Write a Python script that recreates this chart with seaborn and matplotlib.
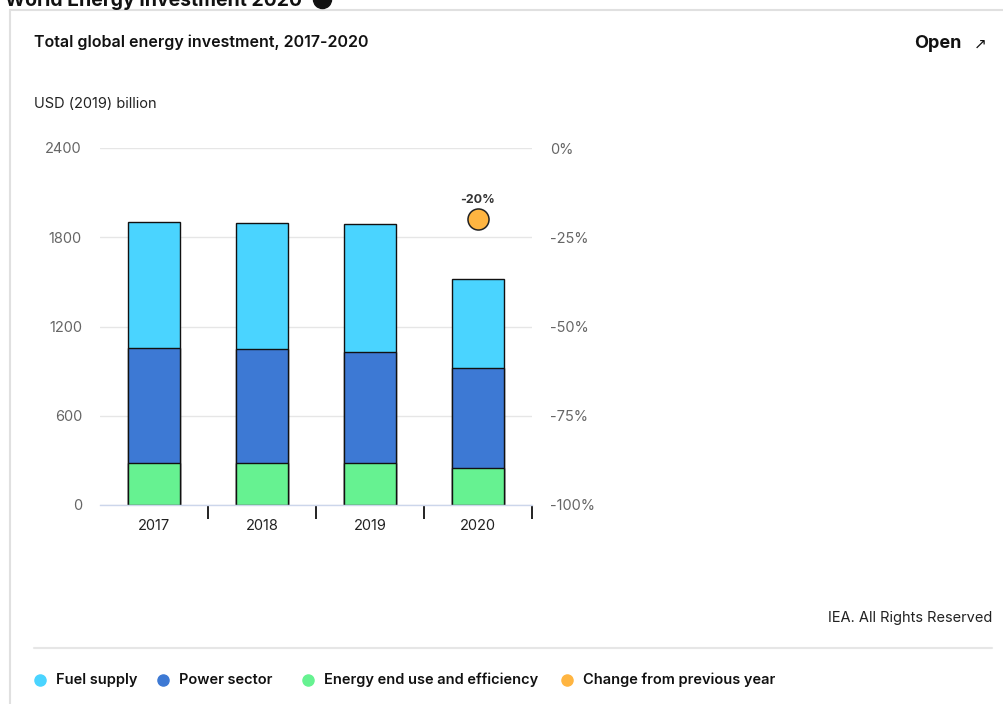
import matplotlib
matplotlib.use("Agg")
import matplotlib.pyplot as plt
import seaborn as sns
import pandas as pd
import numpy as np
from matplotlib.lines import Line2D
from matplotlib.patches import Rectangle

years = ["2017", "2018", "2019", "2020"]
fuel_supply = [852, 851, 860, 594]
power_sector = [773, 767, 751, 676]
end_use = [280, 280, 280, 247]
change_year = ["2020"]
change_pct = [-20]

left_ticks = [0, 600, 1200, 1800, 2400]
right_ticks = [-100, -75, -50, -25, 0]

C_FUEL = "#4ad4ff"
C_POWER = "#3d79d4"
C_END = "#66f291"
C_CHANGE = "#ffb541"

sns.set_theme(style="white")
plt.rcParams["font.family"] = ["Inter", "DejaVu Sans"]
plt.rcParams["xtick.bottom"] = True
plt.rcParams["xtick.minor.visible"] = False

W, H = 1004, 704
fig = plt.figure(figsize=(W / 100, H / 100), dpi=100)

def fx(x):
    return x / W

def fy(y):
    return 1 - y / H

ax = fig.add_axes([fx(100), fy(505), fx(532) - fx(100), fy(148) - fy(505)])

df = pd.DataFrame({"year": years, "fuel": fuel_supply, "power": power_sector, "end": end_use})
df["top_power"] = df["power"] + df["end"]
df["total"] = df["top_power"] + df["fuel"]

for col, color in [("total", C_FUEL), ("top_power", C_POWER), ("end", C_END)]:
    sns.barplot(data=df, x="year", y=col, color=color, width=0.49, edgecolor="#111111",
                linewidth=1.0, ax=ax, saturation=1)

ax.set_xlim(-0.5, 3.5)
ax.set_ylim(0, 2400)
ax.set_yticks(left_ticks)
ax.set_yticklabels([str(v) for v in left_ticks], fontsize=10.5, color="#666666")
ax.yaxis.grid(True, color="#e6e6e6", linewidth=1)
ax.set_axisbelow(True)
ax.set_xlabel("")
ax.set_ylabel("")
for s in ["top", "left", "right"]:
    ax.spines[s].set_visible(False)
ax.spines["bottom"].set_color("#ccd6eb")
ax.spines["bottom"].set_linewidth(1)
ax.set_xticks(range(len(years)))
ax.set_xticklabels(years, fontsize=10.5, color="#222222")
ax.tick_params(axis="x", which="major", length=0, pad=10)
ax.set_xticks([0.5, 1.5, 2.5, 3.5], minor=True)
ax.tick_params(axis="x", which="minor", bottom=True, length=10, width=1.4, color="#222222",
               direction="out")
ax.tick_params(axis="y", length=0, pad=13)

ax2 = ax.twinx()
cdf = pd.DataFrame({"x": [years.index(y) for y in change_year], "pct": change_pct})
sns.scatterplot(data=cdf, x="x", y="pct", s=230, color=C_CHANGE, edgecolor="#222222",
                linewidth=1.1, ax=ax2, zorder=5, legend=False)
for _, r in cdf.iterrows():
    ax2.annotate(f"{r['pct']:.0f}%", (r["x"], r["pct"]), xytext=(0, 10), textcoords="offset points",
                 ha="center", va="bottom", fontsize=9, fontweight="bold", color="#333333")
ax2.set_ylim(-100, 0)
ax2.set_xlim(-0.5, 3.5)
ax2.set_yticks(right_ticks)
ax2.set_yticklabels([f"{v}%" for v in right_ticks], fontsize=10.5, color="#666666")
ax2.tick_params(axis="y", length=0, pad=13)
ax2.tick_params(axis="x", which="both", length=0)
ax2.set_ylabel("")
ax2.set_xlabel("")
ax2.grid(False)
for s in ["top", "left", "right", "bottom"]:
    ax2.spines[s].set_visible(False)

# Frame
fig.patches.append(Rectangle((fx(10), fy(720)), fx(1100), fy(10) - fy(720), transform=fig.transFigure,
                             facecolor="none", edgecolor="#e0e0e0", linewidth=1.5, zorder=0))

fig.text(fx(5), fy(1), "World Energy Investment 2020", fontsize=14, fontweight="bold",
         color="#111111", ha="left", va="center")
fig.add_artist(Line2D([fx(322)], [fy(-1)], marker="o", markersize=13, color="#111111",
                      linestyle="none", transform=fig.transFigure))
fig.text(fx(34), fy(42), "Total global energy investment, 2017-2020", fontsize=11.5,
         fontweight="semibold", color="#111111", ha="left", va="center")
fig.text(fx(962), fy(43), "Open", fontsize=13, fontweight="bold", color="#111111",
         ha="right", va="center")
fig.text(fx(980), fy(44), "↗", fontsize=11, color="#111111", ha="center", va="center",
         family=["DejaVu Sans"])
fig.text(fx(34), fy(104), "USD (2019) billion", fontsize=10.5, color="#222222", ha="left", va="center")
fig.text(fx(992), fy(618), "IEA. All Rights Reserved", fontsize=10.5, color="#222222",
         ha="right", va="center")
fig.add_artist(Line2D([fx(34), fx(992)], [fy(648), fy(648)], color="#e6e6e6", linewidth=1.5,
                      transform=fig.transFigure))

legend_items = [("Fuel supply", C_FUEL, 40), ("Power sector", C_POWER, 163),
                ("Energy end use and efficiency", C_END, 308), ("Change from previous year", C_CHANGE, 567)]
for label, color, x in legend_items:
    fig.add_artist(Line2D([fx(x)], [fy(680)], marker="o", markersize=8, color=color,
                          linestyle="none", transform=fig.transFigure))
    fig.text(fx(x + 16), fy(680), label, fontsize=10.5, fontweight="semibold", color="#111111",
             ha="left", va="center")

fig.savefig("out.png", dpi=100, facecolor="white")
